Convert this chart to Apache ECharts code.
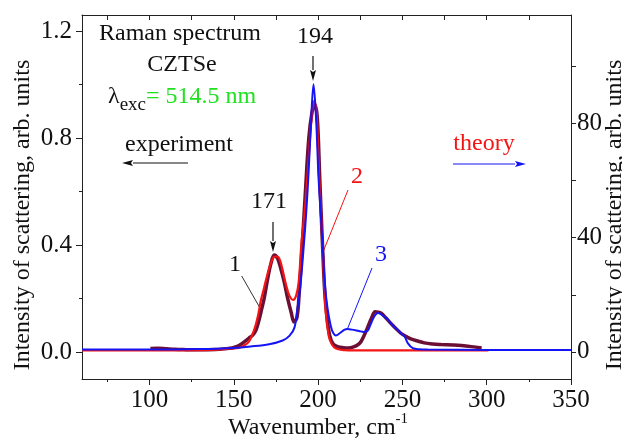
<!DOCTYPE html>
<html><head><meta charset="utf-8">
<script src="https://cdn.jsdelivr.net/npm/echarts@6/dist/echarts.min.js"></script>
<style>html,body{margin:0;padding:0;background:#fff}#c{width:622px;height:441px}
#fontprime{position:absolute;left:0;top:0;opacity:0;font-family:'Liberation Serif';font-size:24px;pointer-events:none}</style>
</head><body>
<div id="fontprime">Raman spectrum 0.8 λexc Wavenumber</div>
<div id="c"></div>
<script>
// ---- axis ticks / labels ----
const xTickLabels = [100, 150, 200, 250, 300, 350];
const xMinorTicks = [75, 125, 175, 225, 275, 325];
const xTopTicks = [75, 100, 125, 150, 175, 200, 225, 250, 275, 300, 325, 350];
const leftTickLabels = [0, 0.4, 0.8, 1.2];
const leftMinorTicks = [0.2, 0.6, 1.0];
const rightTickLabels = [0, 40, 80];
const rightMinorTicks = [20, 60, 100];

// ---- curve 1: experiment (left axis) ----
const expWave = [100.6,105,110,115,120,130,139,145,149,152,155,157,159,161,163,165,166.5,168,170,172,174,176,178,180,182,184,185.8,187.5,188.8,190.8,192.5,194.5,196.5,198,199.5,201,202.5,204,205.5,207,209,212,215,218,221,224,225.5,227.5,229.5,231.5,233.8,235.5,237.4,240,243.3,246,249.3,252,255,259,263,268,273,280,285,291,297];
const expIntensity = [0.014,0.015,0.013,0.011,0.010,0.009,0.010,0.013,0.016,0.022,0.033,0.042,0.053,0.062,0.08,0.12,0.16,0.2,0.27,0.33,0.363,0.35,0.31,0.26,0.2,0.15,0.113,0.13,0.22,0.42,0.6,0.8,0.9,0.925,0.88,0.65,0.42,0.22,0.12,0.06,0.03,0.02,0.017,0.016,0.02,0.03,0.04,0.065,0.095,0.125,0.151,0.15,0.146,0.13,0.107,0.09,0.07,0.06,0.05,0.042,0.035,0.031,0.029,0.027,0.025,0.021,0.016];

// ---- curve 2: theory (right axis) ----
const theory2Wave = [60,100,130,140,148,153,156,159,161,163,164.5,166,168,170,172,174,175.9,177.5,179,181,183,185.2,187,188.5,190.2,192,194,196,197.7,199,200.7,202.7,204.6,206.4,208,209.6,212,216,220,301];
const theory2Intensity = [0.5,0.5,0.6,0.8,1.2,1.4,2.2,3.6,6.0,9.4,13,17.8,22.5,27.2,31.0,33.3,33.4,32,28.6,23.5,19.7,18.2,19.7,24.4,38.5,48.8,63.9,80.8,87.9,84.5,60.4,36.6,13.6,5.4,2.8,1.6,0.9,0.6,0.5,0.5];

// ---- curve 3: theory (right axis) ----
const theory3Wave = [60,100,130,150,160,171,179,183,186,187.8,189.5,191.7,193,194.3,195.8,197.3,198.8,200.2,201.4,202.6,204,205.6,207.6,209,210.6,213,215.5,217.5,220,224.3,227,229.5,231,232.4,234,235.8,238,241.4,244,247.3,249.5,251.3,253.3,256.2,260,265,300,350];
const theory3Intensity = [0.8,0.8,1.0,1.4,1.9,2.7,4.0,5.6,8.5,15.3,23,38.5,49,62,80,93.7,82,62,50,38.5,24,15.3,8.9,6.6,5.7,6.6,7.7,8.0,7.8,7.3,7.0,7.5,9.4,11.3,13,13.6,12.9,11.3,9.4,7.7,6.3,5.4,3.0,1.3,0.9,0.8,0.7,0.7];

const pairs = (xs, ys) => xs.map((x, i) => [x, ys[i]]);
const FONT = 'Liberation Serif';
const AX = '#222';

function arrow(x1, y1, x2, y2, color) {
  const dx = x2 - x1, dy = y2 - y1, L = Math.hypot(dx, dy);
  const ux = dx / L, uy = dy / L, hl = 11, hw = 3;
  const bx = x2 - ux * hl, by = y2 - uy * hl;
  return [
    {type: 'line', silent: true, shape: {x1, y1, x2: bx, y2: by}, style: {stroke: color, lineWidth: 1.2}},
    {type: 'polygon', silent: true, shape: {points: [[x2, y2], [bx - uy * hw, by + ux * hw], [bx + ux * 2, by + uy * 2], [bx + uy * hw, by - ux * hw]]}, style: {fill: color}}
  ];
}
function txt(text, x, y, color, extra) {
  return Object.assign({type: 'text', silent: true, x, y, style: {text, fill: color || '#111', fontFamily: FONT, fontSize: 24, align: 'center', verticalAlign: 'middle'}}, extra || {});
}

const xMin = 60, xMax = 350;
const lMin = -0.1, lMax = 1.26;
const rMin = -9.5, rMax = 118;

const baseX = {type: 'value', min: xMin, max: xMax, splitLine: {show: false}, gridIndex: 0};
const baseY = {type: 'value', splitLine: {show: false}, gridIndex: 0};

const option = {
  backgroundColor: '#fff',
  animation: false,
  textStyle: {fontFamily: FONT},
  grid: {left: 82, right: 51, top: 15, bottom: 62, outerBoundsMode: 'none', containLabel: false},
  xAxis: [
    Object.assign({}, baseX, {position: 'bottom',
      axisLine: {show: true, onZero: false, lineStyle: {color: AX, width: 1}},
      axisTick: {show: true, inside: false, length: 6, customValues: xTickLabels, lineStyle: {color: AX}},
      axisLabel: {show: true, customValues: xTickLabels, margin: 9, color: '#111', fontFamily: FONT, fontSize: 25}}),
    Object.assign({}, baseX, {position: 'bottom', offset: 0,
      axisLine: {show: false, onZero: false},
      axisTick: {show: true, inside: false, length: 3, customValues: xMinorTicks, lineStyle: {color: AX}},
      axisLabel: {show: false}}),
    Object.assign({}, baseX, {position: 'top', offset: 0,
      axisLine: {show: true, onZero: false, lineStyle: {color: AX, width: 1}},
      axisTick: {show: true, inside: true, length: 5, customValues: xTopTicks, lineStyle: {color: AX}},
      axisLabel: {show: false}})
  ],
  yAxis: [
    Object.assign({}, baseY, {position: 'left', min: lMin, max: lMax, offset: 0,
      axisLine: {show: true, onZero: false, lineStyle: {color: AX, width: 1}},
      axisTick: {show: true, inside: false, length: 6, customValues: leftTickLabels, lineStyle: {color: AX}},
      axisLabel: {show: true, customValues: leftTickLabels, margin: 10, color: '#111', fontFamily: FONT, fontSize: 25,
        formatter: v => Number(v).toFixed(1)}}),
    Object.assign({}, baseY, {position: 'left', min: lMin, max: lMax, offset: 0,
      axisLine: {show: false, onZero: false},
      axisTick: {show: true, inside: false, length: 3, customValues: leftMinorTicks, lineStyle: {color: AX}},
      axisLabel: {show: false}}),
    Object.assign({}, baseY, {position: 'right', min: rMin, max: rMax, offset: 0,
      axisLine: {show: true, onZero: false, lineStyle: {color: AX, width: 1}},
      axisTick: {show: true, inside: false, length: 5, customValues: rightTickLabels.concat(rightMinorTicks), lineStyle: {color: AX}},
      axisLabel: {show: true, customValues: rightTickLabels, margin: 6, color: '#111', fontFamily: FONT, fontSize: 25}})
  ],
  series: [
    {name: 'experiment', type: 'line', xAxisIndex: 0, yAxisIndex: 0, data: pairs(expWave, expIntensity),
      showSymbol: false, smooth: 0.35, lineStyle: {color: '#6b0f35', width: 3.5}, z: 2},
    {name: 'theory 2', type: 'line', xAxisIndex: 0, yAxisIndex: 2, data: pairs(theory2Wave, theory2Intensity),
      showSymbol: false, smooth: 0.35, lineStyle: {color: '#f41414', width: 2.2}, z: 3},
    {name: 'theory 3', type: 'line', xAxisIndex: 0, yAxisIndex: 2, data: pairs(theory3Wave, theory3Intensity),
      showSymbol: false, smooth: 0.35, lineStyle: {color: '#1414f4', width: 2}, z: 4}
  ],
  graphic: [].concat(
    [
      txt('Raman spectrum', 180, 34),
      txt('CZTSe', 182, 65),
      {type: 'text', silent: true, x: 108, y: 100, style: {
        text: '{l|λ}{s|exc}{g|= 514.5 nm}', align: 'left', verticalAlign: 'middle',
        rich: {
          l: {fontFamily: FONT, fontSize: 24, fill: '#111', lineHeight: 30, verticalAlign: 'top'},
          s: {fontFamily: FONT, fontSize: 19, fill: '#111', lineHeight: 19, verticalAlign: 'bottom'},
          g: {fontFamily: FONT, fontSize: 24, fill: '#22e022', lineHeight: 30, verticalAlign: 'top'}
        }}},
      txt('experiment', 179, 145),
      txt('theory', 484, 144, '#f41414'),
      txt('194', 315, 37),
      txt('171', 269, 202),
      txt('1', 235, 265),
      txt('2', 357, 177, '#f41414'),
      txt('3', 381, 255, '#1414f4'),
      {type: 'line', silent: true, shape: {x1: 241.7, y1: 276, x2: 260, y2: 308}, style: {stroke: '#333', lineWidth: 1}},
      {type: 'line', silent: true, shape: {x1: 348, y1: 190, x2: 323, y2: 252}, style: {stroke: '#f41414', lineWidth: 1}},
      {type: 'line', silent: true, shape: {x1: 372, y1: 268, x2: 347, y2: 330}, style: {stroke: '#1414f4', lineWidth: 1}},
      txt('Intensity of scattering, arb. units', 23, 215, '#111', {rotation: Math.PI / 2}),
      txt('Intensity of scattering, arb. units', 615, 215, '#111', {rotation: Math.PI / 2}),
      {type: 'text', silent: true, x: 318, y: 426, style: {
        text: '{a|Wavenumber, cm}{b|-1}', align: 'center', verticalAlign: 'middle',
        rich: {
          a: {fontFamily: FONT, fontSize: 24, fill: '#111', lineHeight: 28, verticalAlign: 'bottom'},
          b: {fontFamily: FONT, fontSize: 15, fill: '#111', lineHeight: 15, verticalAlign: 'top'}
        }}}
    ],
    arrow(188, 163, 122, 163, '#111'),
    arrow(453, 164, 526, 164, '#1414f4'),
    arrow(313, 56, 313, 81, '#111'),
    arrow(273, 222, 273, 252, '#111')
  )
};

const chart = echarts.init(document.getElementById('c'), null, {renderer: 'canvas'});
chart.setOption(option);
function redraw() { chart.setOption(option, true); }
if (document.fonts && document.fonts.ready) {
  document.fonts.ready.then(() => setTimeout(redraw, 50));
}
setTimeout(redraw, 300);
</script>
</body></html>
